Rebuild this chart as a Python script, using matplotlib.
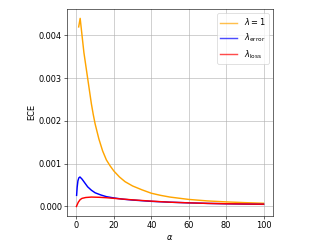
import matplotlib
matplotlib.use("Agg")
import matplotlib.pyplot as plt

# values
alpha_one = [1.2, 2, 3, 4, 5, 6, 7, 8, 9, 10, 12, 14, 16, 18, 20, 23, 26, 30, 35, 40, 45, 50,
             60, 70, 80, 90, 100]
ece_one = [0.0042, 0.0044, 0.0040, 0.0036, 0.0033, 0.0030, 0.0027, 0.0024, 0.00215, 0.00193,
           0.00158, 0.0013, 0.00109, 0.00095, 0.00083, 0.00069, 0.00058, 0.00048, 0.00039,
           0.00031, 0.00026, 0.00022, 0.000165, 0.00013, 0.000107, 0.00009, 0.000075]

alpha_error = [0.1, 0.4, 0.8, 1.3, 1.9, 3, 4, 6, 8, 10, 13, 16, 20, 25, 30, 40, 50, 60, 70,
               80, 90, 100]
ece_error = [0.00026, 0.00045, 0.0006, 0.00067, 0.00069, 0.00064, 0.00058, 0.00046, 0.00038,
             0.00032, 0.00027, 0.00023, 0.0002, 0.00017, 0.00015, 0.00012, 0.0001, 0.000085,
             0.000072, 0.000063, 0.000056, 0.00005]

alpha_loss = [0, 0.5, 1, 2, 3, 5, 8, 12, 16, 20, 25, 30, 40, 50, 60, 70, 80, 90, 100]
ece_loss = [0, 0.00005, 0.0001, 0.00016, 0.00019, 0.00021, 0.00022, 0.000215, 0.000205,
            0.00019, 0.000172, 0.000155, 0.000125, 0.0001, 0.000085, 0.000072, 0.000064,
            0.000058, 0.000053]

plt.rcParams['font.size'] = 11.5

fig = plt.figure(figsize=(6.4, 4.8), dpi=51.875)
ax = fig.add_axes([0.202, 0.133, 0.62, 0.831])

ax.plot(alpha_one, ece_one, color='orange', linewidth=2, label=r'$\lambda=1$')
ax.plot(alpha_error, ece_error, color='blue', linewidth=2, label=r'$\lambda_{\rm error}$')
ax.plot(alpha_loss, ece_loss, color='red', linewidth=2, label=r'$\lambda_{\rm loss}$')

ax.set_xlabel(r'$\alpha$')
ax.set_ylabel('ECE')
ax.grid(True)
leg = ax.legend(loc='upper right')
for h in leg.legend_handles:
    h.set_alpha(0.7)

fig.savefig('out.png', dpi=51.875)
